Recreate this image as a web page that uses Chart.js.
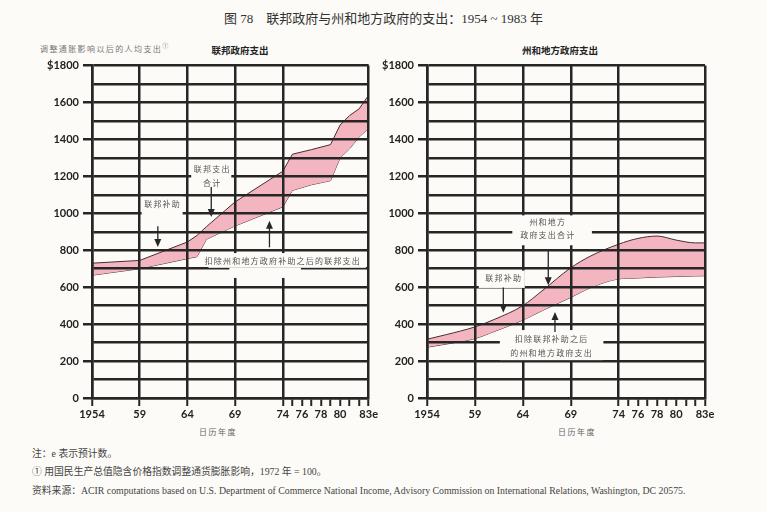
<!DOCTYPE html>
<html>
<head>
<meta charset="utf-8">
<script src="https://cdn.jsdelivr.net/npm/chart.js@4.4.1/dist/chart.umd.min.js"></script>
<style>
  body { margin: 0; background: #fcfbf7; }
  #wrap { position: relative; width: 767px; height: 512px; overflow: hidden; }
  canvas { position: absolute; }
  .t { position: absolute; white-space: nowrap; font-family: "Liberation Serif", "Noto Sans CJK SC", serif; }
  .cjk { font-family: "Noto Sans CJK SC", sans-serif; }
</style>
</head>
<body>
<div id="wrap">
  <div class="t" style="left:0;width:767px;text-align:center;top:8px;font-size:13px;color:#333;">图 78　联邦政府与州和地方政府的支出：1954 ~ 1983 年</div>
  <div class="t cjk" style="left:40px;top:41px;font-size:8px;letter-spacing:1.4px;color:#777;">调整通胀影响以后的人均支出<sup style="font-size:6px">①</sup></div>
  <div class="t cjk" style="left:190px;width:100px;text-align:center;top:43px;font-size:9.5px;font-weight:bold;color:#222;">联邦政府支出</div>
  <div class="t cjk" style="left:500px;width:120px;text-align:center;top:43px;font-size:9.5px;font-weight:bold;color:#222;">州和地方政府支出</div>
  <div class="t cjk" style="left:178px;width:80px;text-align:center;top:426px;font-size:8px;letter-spacing:1.5px;color:#666;">日历年度</div>
  <div class="t cjk" style="left:537px;width:80px;text-align:center;top:426px;font-size:8px;letter-spacing:1.5px;color:#666;">日历年度</div>
  <div class="t" style="left:32px;top:446px;font-size:9.8px;color:#444;">注：e 表示预计数。</div>
  <div class="t" style="left:32px;top:464px;font-size:9.8px;color:#444;">① 用国民生产总值隐含价格指数调整通货膨胀影响，1972 年 = 100。</div>
  <div class="t" style="left:32px;top:483px;font-size:9.8px;color:#444;">资料来源：ACIR computations based on U.S. Department of Commerce National Income, Advisory Commission on International Relations, Washington, DC 20575.</div>
  <canvas id="fedChart" style="left:30px;top:55px;width:350px;height:385px;" width="350" height="385"></canvas>
  <canvas id="slChart" style="left:380px;top:55px;width:340px;height:385px;" width="340" height="385"></canvas>
</div>
<script>
// per capita spending, adjusted for inflation (dollars)
const fedYears = [1954, 1959, 1964, 1965, 1966, 1969, 1974, 1975, 1977, 1979, 1980, 1981, 1982, 1983];
const fedTotal = [730, 745, 845, 880, 928, 1062, 1228, 1320, 1345, 1372, 1478, 1530, 1566, 1640];
const fedNet   = [665, 700, 755, 765, 860, 932, 1035, 1124, 1155, 1177, 1300, 1350, 1414, 1460];

const slYears = [1954, 1956, 1959, 1961, 1964, 1966, 1969, 1971, 1974, 1976, 1978, 1980, 1982, 1983];
const slTotal = [318, 343, 385, 425, 500, 580, 705, 767, 833, 864, 877, 855, 840, 840];
const slNet   = [275, 292, 322, 360, 422, 473, 545, 596, 645, 650, 655, 658, 661, 662];

const majorYears = [1954, 1959, 1964, 1969, 1974, 1983];
const yearLabels = {1954: '1954', 1959: '59', 1964: '64', 1969: '69', 1974: '74', 1976: '76', 1978: '78', 1980: '80', 1983: '83e'};

// annotations (year, value)
const fedLabels = [['联邦支出', 1966.6, 1243], ['合计', 1966.6, 1162], ['联邦补助', 1961.4, 1049],
                   ['扣除州和地方政府补助之后的联邦支出', 1974, 742]];
const fedArrows = [[1966.5, 1142, 980], [1960.9, 930, 818], [1972.6, 816, 960]];
const fedBoxes  = [[1964.4, 1968.6, 1124, 1276], [1959.2, 1963.5, 990, 1090],
                   [1966.2, 1982.7, 705, 785], [1968.4, 1975.9, 650, 705]];

const slLabels = [['州和地方', 1966.6, 953], ['政府支出合计', 1966.6, 881], ['联邦补助', 1962, 650],
                  ['扣除联邦补助之后', 1967, 322], ['的州和地方政府支出', 1967, 245]];
const slArrows = [[1966.65, 800, 611], [1961.96, 598, 461], [1967.35, 358, 466]];
const slBoxes  = [[1962.9, 1971.2, 827, 989], [1959.4, 1964.2, 596, 690], [1961.6, 1972.4, 205, 368]];

const ink = '#262626';
const paper = '#fcfbf7';
const pink = '#f3b6c0';

function notes(labels, arrows, boxes) {
  return {
    id: 'notes',
    afterDraw(chart) {
      const ctx = chart.ctx, x = chart.scales.x, y = chart.scales.y;
      ctx.save();
      ctx.fillStyle = paper;
      boxes.forEach(b => {
        const x0 = x.getPixelForValue(b[0]), x1 = x.getPixelForValue(b[1]);
        const y0 = y.getPixelForValue(b[3]), y1 = y.getPixelForValue(b[2]);
        ctx.fillRect(x0, y0, x1 - x0, y1 - y0);
      });
      ctx.font = '8px "Noto Sans CJK SC"';
      ctx.fillStyle = '#555';
      ctx.textAlign = 'center';
      ctx.textBaseline = 'middle';
      if ('letterSpacing' in ctx) ctx.letterSpacing = '1.2px';
      labels.forEach(l => ctx.fillText(l[0], x.getPixelForValue(l[1]), y.getPixelForValue(l[2])));
      ctx.strokeStyle = ink;
      ctx.fillStyle = ink;
      ctx.lineWidth = 1.3;
      arrows.forEach(a => {
        const px = x.getPixelForValue(a[0]);
        const p0 = y.getPixelForValue(a[1]), p1 = y.getPixelForValue(a[2]);
        const dir = p1 > p0 ? 1 : -1;
        ctx.beginPath();
        ctx.moveTo(px, p0);
        ctx.lineTo(px, p1 - dir * 6);
        ctx.stroke();
        ctx.beginPath();
        ctx.moveTo(px, p1);
        ctx.lineTo(px - 3.5, p1 - dir * 8);
        ctx.lineTo(px + 3.5, p1 - dir * 8);
        ctx.closePath();
        ctx.fill();
      });
      ctx.restore();
    }
  };
}

function makeChart(id, years, total, net, labels, arrows, boxes, yWidth, padRight, smooth) {
  const pts = vals => years.map((yr, i) => ({x: yr, y: vals[i]}));
  const line = {
    borderColor: '#4a2c2c',
    borderWidth: 1,
    pointRadius: 0,
    tension: smooth ? 0.4 : 0,
    cubicInterpolationMode: smooth ? 'monotone' : 'default'
  };
  return new Chart(document.getElementById(id), {
    type: 'line',
    data: {
      datasets: [
        Object.assign({ data: pts(total), backgroundColor: pink, fill: '+1' }, line),
        Object.assign({ data: pts(net), fill: false }, line)
      ]
    },
    options: {
      responsive: false,
      animation: false,
      layout: { padding: { top: 10, right: padRight, left: 0, bottom: 0 } },
      plugins: { legend: { display: false }, tooltip: { enabled: false } },
      scales: {
        x: {
          type: 'linear',
          min: 1954, max: 1983,
          afterFit: s => { s.height = 42; },
          border: { display: true, color: ink, width: 2.5, z: 1 },
          grid: {
            z: 1,
            color: c => majorYears.includes(c.tick.value) ? ink : 'rgba(0,0,0,0)',
            tickColor: c => (majorYears.includes(c.tick.value) || c.tick.value > 1974) ? ink : 'rgba(0,0,0,0)',
            lineWidth: 2.5,
            tickWidth: 2,
            tickLength: 8
          },
          ticks: {
            stepSize: 1,
            autoSkip: false,
            maxRotation: 0,
            padding: 2,
            color: '#222',
            font: { family: 'Lato', size: 11, weight: 'bold' },
            callback: v => yearLabels[v] || ''
          }
        },
        y: {
          min: 0, max: 1800,
          afterFit: s => { s.width = yWidth; },
          border: { display: true, color: ink, width: 2.5, z: 1 },
          grid: {
            z: 1,
            color: ink,
            tickColor: c => c.tick.value % 200 === 0 ? ink : 'rgba(0,0,0,0)',
            lineWidth: 2.5,
            tickLength: 9
          },
          ticks: {
            stepSize: 100,
            autoSkip: false,
            padding: 4,
            color: '#222',
            font: { family: 'Lato', size: 11, weight: 'bold' },
            callback: v => v % 200 === 0 ? (v === 1800 ? '$1800' : String(v)) : ''
          }
        }
      }
    },
    plugins: [notes(labels, arrows, boxes)]
  });
}

makeChart('fedChart', fedYears, fedTotal, fedNet, fedLabels, fedArrows, fedBoxes, 62, 10, false);
makeChart('slChart', slYears, slTotal, slNet, slLabels, slArrows, slBoxes, 47, 15, true);
</script>
</body>
</html>
